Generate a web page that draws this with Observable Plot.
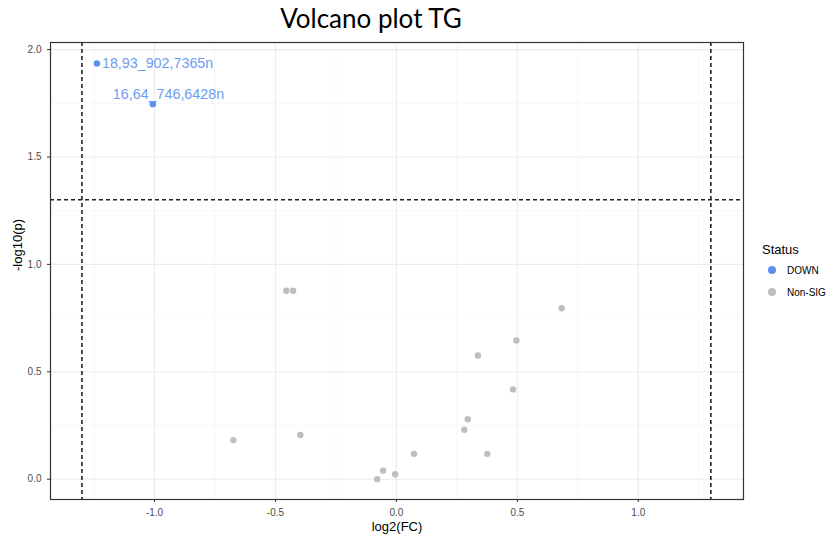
<!DOCTYPE html>
<html>
<head>
<meta charset="utf-8">
<script src="https://cdn.jsdelivr.net/npm/d3@7"></script>
<script src="https://cdn.jsdelivr.net/npm/@observablehq/plot@0.6"></script>
<style>
  html, body { margin: 0; padding: 0; background: #fff; }
  #wrap { position: relative; width: 832px; height: 537px; font-family: "Liberation Sans", Arial, sans-serif; }
  #title { position: absolute; left: 0; width: 742px; top: 2px; text-align: center; font-family: Lato, "Open Sans", sans-serif; font-size: 26px; color: #000; }
  #legend { position: absolute; left: 762px; top: 242px; font-size: 13px; color: #000; }
  #legend .item { display: flex; align-items: center; font-size: 10px; height: 22px; }
  #legend .sw { width: 8px; height: 8px; border-radius: 50%; margin: 0 11px 0 6px; }
</style>
</head>
<body>
<div id="wrap">
  <div id="title">Volcano plot TG</div>
  <div id="legend">
    <div style="margin-bottom:2px">Status</div>
    <div class="item"><span class="sw" style="background:#5B8FEC"></span>DOWN</div>
    <div class="item"><span class="sw" style="background:#BEBEBE"></span>Non-SIG</div>
  </div>
</div>
<script>
// Data
const downLabels = ["18,93_902,7365n", "16,64_746,6428n"];
const downFC = [-1.238, -1.007];
const downP = [1.935, 1.746];

const nonsigFC = [-0.455, -0.427, 0.683, 0.496, 0.337, 0.482, -0.674, -0.397, -0.079, -0.055, -0.005, 0.073, 0.295, 0.281, 0.376];
const nonsigP  = [0.877, 0.877, 0.796, 0.646, 0.576, 0.418, 0.182, 0.206, 0.000, 0.040, 0.023, 0.118, 0.279, 0.230, 0.118];

const fcCut = [-1.3, 1.3];
const pCut = [1.301];

const xTicks = [-1.0, -0.5, 0.0, 0.5, 1.0];
const yTicks = [0.0, 0.5, 1.0, 1.5, 2.0];
const xMinor = [-1.25, -0.75, -0.25, 0.25, 0.75, 1.25];
const yMinor = [0.25, 0.75, 1.25, 1.75];

const down = downLabels.map((label, i) => ({label, fc: downFC[i], p: downP[i]}));
const nonsig = nonsigFC.map((fc, i) => ({fc, p: nonsigP[i]}));

const blue = "#5B8FEC";
const fmt = d => d.toFixed(1);

const chart = Plot.plot({
  width: 832,
  height: 537,
  marginLeft: 50,
  marginRight: 89,
  marginTop: 42,
  marginBottom: 38,
  style: {fontFamily: "'Liberation Sans', Arial, sans-serif", background: "#fff"},
  x: {domain: [-1.43, 1.435], ticks: xTicks, tickFormat: fmt, label: null, tickSize: 3},
  y: {domain: [-0.0945, 2.033], ticks: yTicks, tickFormat: fmt, label: null, tickSize: 3},
  marks: [
    Plot.ruleX(xMinor, {stroke: "#f2f2f2", strokeWidth: 0.6}),
    Plot.ruleY(yMinor, {stroke: "#f2f2f2", strokeWidth: 0.6}),
    Plot.ruleX(xTicks, {stroke: "#ebebeb", strokeWidth: 1.1}),
    Plot.ruleY(yTicks, {stroke: "#ebebeb", strokeWidth: 1.1}),
    Plot.ruleX(fcCut, {stroke: "#222", strokeWidth: 1.6, strokeDasharray: "4,3"}),
    Plot.ruleY(pCut, {stroke: "#222", strokeWidth: 1.6, strokeDasharray: "4,3"}),
    Plot.dot(nonsig, {x: "fc", y: "p", r: 3.2, fill: "#BEBEBE"}),
    Plot.dot(down, {x: "fc", y: "p", r: 3.2, fill: blue}),
    Plot.text(down.slice(0, 1), {x: "fc", y: "p", text: "label", fill: "#6C9CF0", fontSize: 14.3, textAnchor: "start", dx: 5, dy: 0}),
    Plot.text(down.slice(1, 2), {x: "fc", y: "p", text: "label", fill: "#6C9CF0", fontSize: 14.3, textAnchor: "start", dx: -40, dy: -10}),
    Plot.frame({stroke: "#333", strokeWidth: 1.2}),
    Plot.axisX({ticks: xTicks, tickFormat: fmt, tickSize: 3, fontSize: 10, color: "#4D4D4D", stroke: "#333", label: null}),
    Plot.axisY({ticks: yTicks, tickFormat: fmt, tickSize: 3, fontSize: 10, color: "#4D4D4D", stroke: "#333", label: null}),
    Plot.text(["log2(FC)"], {frameAnchor: "bottom", dy: 31, fontSize: 13, fill: "#000"}),
    Plot.text(["-log10(p)"], {frameAnchor: "left", dx: -33, rotate: -90, fontSize: 13, fill: "#000"})
  ]
});
document.getElementById("wrap").prepend(chart);
chart.style.position = "absolute";
chart.style.left = "0";
chart.style.top = "0";
</script>
</body>
</html>
